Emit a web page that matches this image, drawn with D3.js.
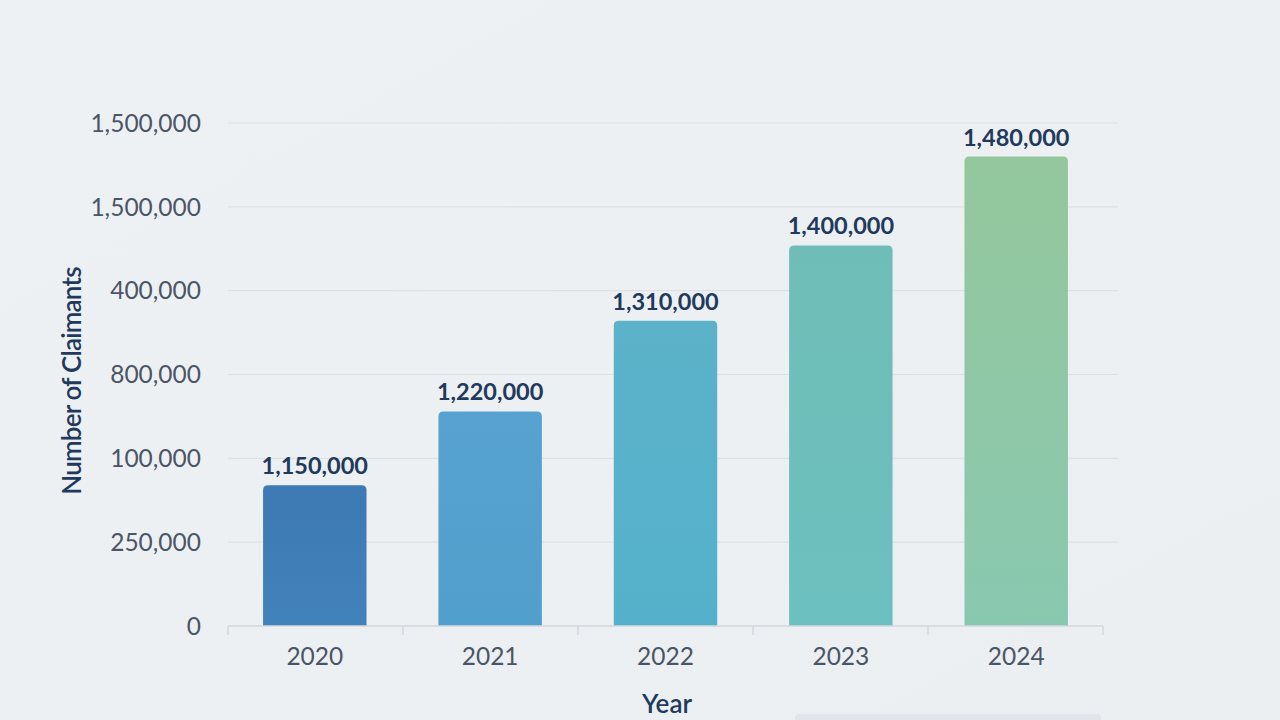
<!DOCTYPE html>
<html>
<head>
<meta charset="utf-8">
<script src="https://cdn.jsdelivr.net/npm/d3@7"></script>
<style>
  html, body { margin: 0; padding: 0; }
  body { width: 1280px; height: 720px; overflow: hidden; background: #eef1f4; font-family: Lato, "Open Sans", sans-serif; }
  .grid line { stroke: #dde2e7; stroke-width: 1.2; }
  .tick-label { fill: #4a5566; font-size: 24.5px; }
  .x-label { font-size: 24.5px; }
  .value-label { fill: #1f3a5c; font-size: 23.5px; font-weight: 700; }
  .axis-title { fill: #1f3a5c; font-size: 26px; font-weight: 600; }
</style>
</head>
<body>
<div id="chart"></div>
<script>
// categories
var years = ["2020", "2021", "2022", "2023", "2024"];
// text printed above each bar
var valueLabels = ["1,150,000", "1,220,000", "1,310,000", "1,400,000", "1,480,000"];
// bar heights (0 .. 1,500,000)
var barValues = [420000, 640000, 910000, 1135000, 1400000];
// y tick positions and the labels printed beside them
var tickValues = [0, 250000, 500000, 750000, 1000000, 1250000, 1500000];
var tickLabels = ["0", "250,000", "100,000", "800,000", "400,000", "1,500,000", "1,500,000"];
// bar colours, top and bottom of each gradient
var barTop = ["#3d79b2", "#57a2d0", "#5bb2c9", "#6fbdb6", "#94c79c"];
var barBottom = ["#4282bb", "#519fcc", "#55b1cb", "#6cc0bf", "#89c8b0"];

var margin = {top: 123, right: 162, bottom: 94, left: 228};
var width = 1280 - margin.left - margin.right;
var height = 720 - margin.top - margin.bottom;

var svg = d3.select("#chart").append("svg")
    .attr("width", 1280)
    .attr("height", 720);

var defs = svg.append("defs");
var bg = defs.append("linearGradient").attr("id", "bg")
    .attr("x1", 0).attr("y1", 0).attr("x2", 1).attr("y2", 1);
bg.append("stop").attr("offset", 0).attr("stop-color", "#eef1f4");
bg.append("stop").attr("offset", 1).attr("stop-color", "#eceff2");

years.forEach(function(y, i) {
    var g = defs.append("linearGradient").attr("id", "bar" + i)
        .attr("x1", 0).attr("y1", 0).attr("x2", 0).attr("y2", 1);
    g.append("stop").attr("offset", 0).attr("stop-color", barTop[i]);
    g.append("stop").attr("offset", 1).attr("stop-color", barBottom[i]);
});

svg.append("rect").attr("width", 1280).attr("height", 720).attr("fill", "url(#bg)");

// faint panel at the bottom right
svg.append("rect")
    .attr("x", 795).attr("y", 714).attr("width", 306).attr("height", 12)
    .attr("rx", 4)
    .attr("fill", "#e2e6ea");

var g = svg.append("g")
    .attr("transform", "translate(" + margin.left + "," + margin.top + ")");

var xScale = d3.scaleBand()
    .domain(years)
    .range([0, 875])
    .paddingInner(0.41)
    .paddingOuter(0.2);

var yScale = d3.scaleLinear()
    .domain([0, 1500000])
    .range([height, 0]);

// grid lines
g.append("g").attr("class", "grid")
    .selectAll("line")
    .data(tickValues.slice(1))
    .enter().append("line")
    .attr("x1", 0)
    .attr("x2", 890)
    .attr("y1", function(d) { return yScale(d); })
    .attr("y2", function(d) { return yScale(d); });

// y tick labels
g.selectAll(".y-tick")
    .data(tickValues)
    .enter().append("text")
    .attr("class", "tick-label y-tick")
    .attr("x", -27)
    .attr("y", function(d) { return yScale(d); })
    .attr("dy", "0.36em")
    .attr("text-anchor", "end")
    .text(function(d, i) { return tickLabels[i]; });

// rounded-top bar path
function barPath(x, y, w, h, r) {
    return "M" + x + "," + (y + h) +
        "V" + (y + r) +
        "Q" + x + "," + y + " " + (x + r) + "," + y +
        "H" + (x + w - r) +
        "Q" + (x + w) + "," + y + " " + (x + w) + "," + (y + r) +
        "V" + (y + h) + "Z";
}

g.selectAll(".bar")
    .data(barValues)
    .enter().append("path")
    .attr("class", "bar")
    .attr("fill", function(d, i) { return "url(#bar" + i + ")"; })
    .attr("d", function(d, i) {
        var x = xScale(years[i]);
        return barPath(x, yScale(d), xScale.bandwidth(), height - yScale(d), 5);
    });

g.selectAll(".value-label")
    .data(barValues)
    .enter().append("text")
    .attr("class", "value-label")
    .attr("x", function(d, i) { return xScale(years[i]) + xScale.bandwidth() / 2; })
    .attr("y", function(d) { return yScale(d) - 11; })
    .attr("text-anchor", "middle")
    .text(function(d, i) { return valueLabels[i]; });

// x axis
var xAxis = g.append("g").attr("transform", "translate(0," + height + ")");
xAxis.append("line")
    .attr("x1", 0).attr("x2", 875)
    .attr("stroke", "#d3d8de").attr("stroke-width", 1.5);

var bounds = d3.range(years.length + 1).map(function(i) { return i * 875 / years.length; });
xAxis.selectAll(".x-tick")
    .data(bounds)
    .enter().append("line")
    .attr("x1", function(d) { return d; })
    .attr("x2", function(d) { return d; })
    .attr("y1", 0).attr("y2", 9)
    .attr("stroke", "#d3d8de").attr("stroke-width", 1.5);

xAxis.selectAll(".x-label")
    .data(years)
    .enter().append("text")
    .attr("class", "tick-label x-label")
    .attr("x", function(d) { return xScale(d) + xScale.bandwidth() / 2; })
    .attr("y", 30)
    .attr("dy", "0.36em")
    .attr("text-anchor", "middle")
    .text(function(d) { return d; });

// axis titles
svg.append("text")
    .attr("class", "axis-title")
    .attr("x", 667)
    .attr("y", 704)
    .attr("dy", "0.36em")
    .attr("text-anchor", "middle")
    .text("Year");

svg.append("text")
    .attr("class", "axis-title")
    .attr("transform", "translate(72,381) rotate(-90)")
    .attr("dy", "0.36em")
    .attr("text-anchor", "middle")
    .attr("letter-spacing", "-0.8")
    .text("Number of Claimants");
</script>
</body>
</html>
